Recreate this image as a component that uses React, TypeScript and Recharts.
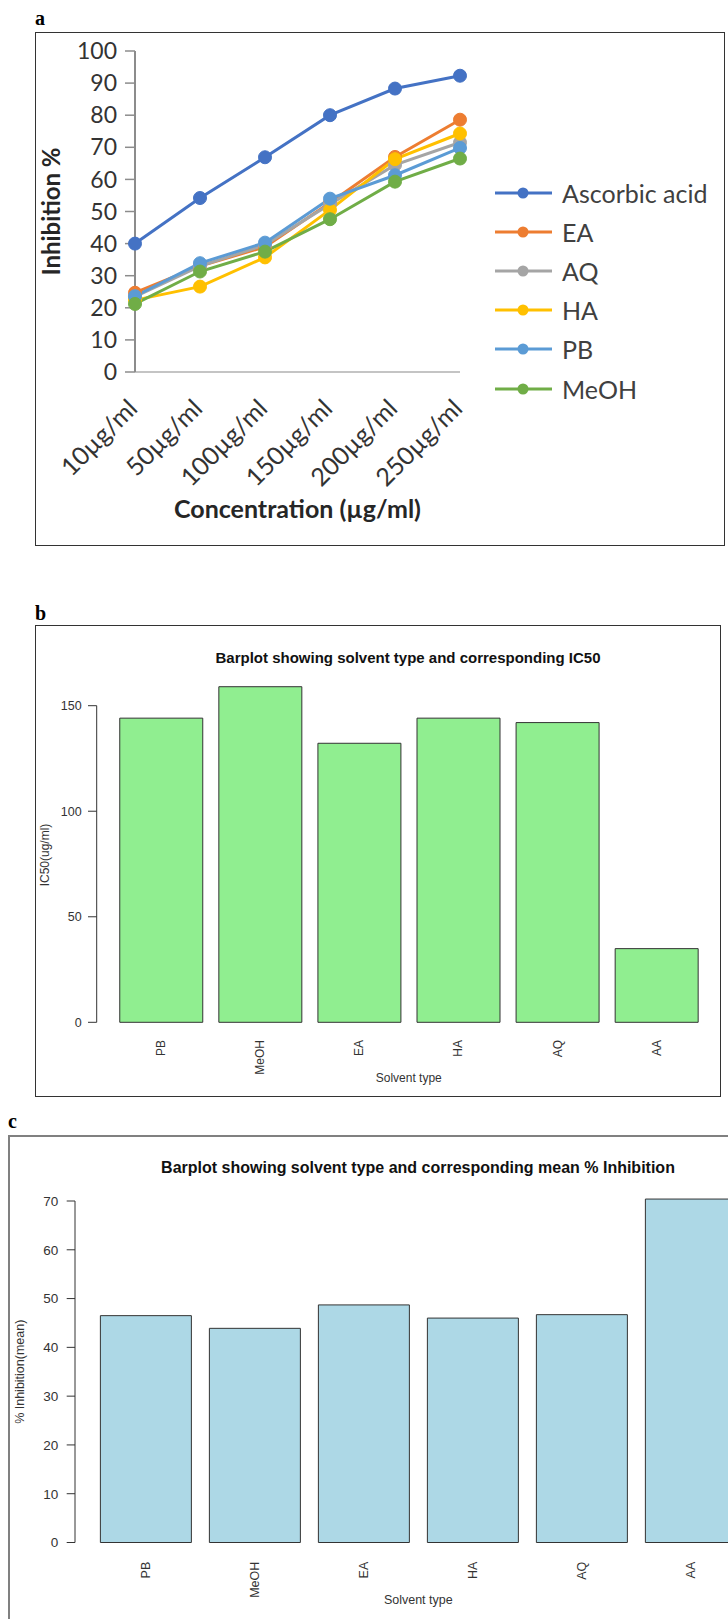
import React from 'react';
import { LineChart, Line, XAxis, YAxis, Legend, BarChart, Bar } from 'recharts';

// ---- Panel a: DPPH inhibition by concentration ----
const concentrations = ['10µg/ml', '50µg/ml', '100µg/ml', '150µg/ml', '200µg/ml', '250µg/ml'];
const ascorbicAcid = [40, 54.2, 66.9, 80, 88.3, 92.3];
const eaInhibition = [24.7, 33, 39, 52.7, 67, 78.6];
const aqInhibition = [23.5, 33, 39.6, 52.3, 64.5, 71.5];
const haInhibition = [22.4, 26.6, 35.7, 50.5, 66.3, 74.3];
const pbInhibition = [23.6, 33.9, 40.3, 54, 61.3, 69.8];
const meohInhibition = [21.2, 31.3, 37.5, 47.6, 59.3, 66.5];
const inhibitionTicks = [0, 10, 20, 30, 40, 50, 60, 70, 80, 90, 100];

const seriesNames = ['Ascorbic acid', 'EA', 'AQ', 'HA', 'PB', 'MeOH'];
const seriesColors = ['#4472C4', '#ED7D31', '#A5A5A5', '#FFC000', '#5B9BD5', '#70AD47'];
const seriesValues = [ascorbicAcid, eaInhibition, aqInhibition, haInhibition, pbInhibition, meohInhibition];

// ---- Panels b and c: per-solvent summaries ----
const solventTypes = ['PB', 'MeOH', 'EA', 'HA', 'AQ', 'AA'];
const ic50Values = [144.1, 159, 132.2, 144.1, 142, 34.9];
const ic50Ticks = [0, 50, 100, 150];
const meanInhibition = [46.5, 43.9, 48.7, 46.0, 46.7, 70.4];
const meanInhibitionTicks = [0, 10, 20, 30, 40, 50, 60, 70];

const EXCEL_FONT = 'Lato, "Open Sans", sans-serif';
const R_FONT = '"Liberation Sans", Arial, sans-serif';
const SERIF = '"Liberation Serif", "Times New Roman", serif';

const lineRows = concentrations.map((conc, i) => {
  const row: Record<string, string | number> = { conc };
  seriesNames.forEach((name, s) => {
    row[name] = seriesValues[s][i];
  });
  return row;
});

const ic50Rows = solventTypes.map((solvent, i) => ({ solvent, value: ic50Values[i] }));
const meanRows = solventTypes.map((solvent, i) => ({ solvent, value: meanInhibition[i] }));

function ConcTick(props: any) {
  const { x, y, payload } = props;
  const ax = x + 4;
  const ay = y + 38;
  return (
    <text
      x={ax}
      y={ay}
      transform={`rotate(-45, ${ax}, ${ay})`}
      textAnchor="end"
      fontFamily={EXCEL_FONT}
      fontSize={25}
      fill="#333"
    >
      {payload.value}
    </text>
  );
}

function LegendList(props: any) {
  // keep the legend in plotting order rather than alphabetical
  const payload = [...(props.payload || [])].sort(
    (a: any, b: any) => seriesNames.indexOf(a.value) - seriesNames.indexOf(b.value)
  );
  return (
    <div style={{ fontFamily: EXCEL_FONT, fontSize: 25, color: '#404040' }}>
      {payload.map((entry: any) => (
        <div key={entry.value} style={{ display: 'flex', alignItems: 'center', height: 39.2 }}>
          <svg width={57} height={14} style={{ marginRight: 10, flex: 'none' }}>
            <line x1={0} y1={7} x2={57} y2={7} stroke={entry.color} strokeWidth={3} />
            <circle cx={28} cy={7} r={5.5} fill={entry.color} />
          </svg>
          <span style={{ whiteSpace: 'nowrap' }}>{entry.value}</span>
        </div>
      ))}
    </div>
  );
}

function InhibitionLines() {
  return (
    <div style={{ position: 'absolute', left: 35, top: 32 }}>
      <LineChart width={690} height={514} data={lineRows} margin={{ top: 19, right: 265, bottom: 0, left: 0 }}>
        <XAxis
          dataKey="conc"
          height={174}
          interval={0}
          axisLine={{ stroke: '#c4c4c4', strokeWidth: 2 }}
          tickLine={false}
          tickSize={0}
          tickMargin={0}
          tick={(p: any) => <ConcTick {...p} />}
          label={{
            content: (p: any) => {
              const vb = p.viewBox;
              return (
                <text
                  x={vb.x + vb.width / 2}
                  y={vb.y + 146}
                  textAnchor="middle"
                  fontFamily={EXCEL_FONT}
                  fontWeight="bold"
                  fontSize={25}
                  fill="#262626"
                >
                  Concentration (µg/ml)
                </text>
              );
            },
          }}
        />
        <YAxis
          width={100}
          domain={[0, 100]}
          ticks={inhibitionTicks}
          interval={0}
          axisLine={{ stroke: '#8c8c8c', strokeWidth: 2 }}
          tickLine={{ stroke: '#8c8c8c', strokeWidth: 1.5 }}
          tickSize={10}
          tickMargin={8}
          tick={{ fontFamily: EXCEL_FONT, fontSize: 23, fill: '#333' }}
          label={{
            content: (p: any) => {
              const vb = p.viewBox;
              const cx = 15;
              const cy = vb.y + vb.height / 2;
              return (
                <text
                  x={cx}
                  y={cy}
                  transform={`rotate(-90, ${cx}, ${cy})`}
                  textAnchor="middle"
                  dominantBaseline="central"
                  fontFamily={EXCEL_FONT}
                  fontWeight="bold"
                  fontSize={24}
                  fill="#262626"
                >
                  Inhibition %
                </text>
              );
            },
          }}
        />
        {seriesNames.map((name, s) => (
          <Line
            key={name}
            type="linear"
            dataKey={name}
            name={name}
            stroke={seriesColors[s]}
            strokeWidth={3}
            dot={{ r: 6.5, fill: seriesColors[s], stroke: seriesColors[s], strokeWidth: 1 }}
            activeDot={false}
            isAnimationActive={false}
          />
        ))}
        <Legend
          layout="horizontal"
          align="center"
          verticalAlign="middle"
          content={(p: any) => <LegendList {...p} />}
          wrapperStyle={{ left: 460, top: 141, width: 228, height: 236 }}
        />
      </LineChart>
    </div>
  );
}

function VerticalTick(props: any) {
  const { x, y, payload, gap, size } = props;
  const ty = y + gap;
  return (
    <text
      x={x}
      y={ty}
      transform={`rotate(-90, ${x}, ${ty})`}
      textAnchor="end"
      dy="0.35em"
      fontFamily={R_FONT}
      fontSize={size}
      fill="#333"
    >
      {payload.value}
    </text>
  );
}

type BarPanelProps = {
  rows: { solvent: string; value: number }[];
  ticks: number[];
  left: number;
  top: number;
  width: number;
  height: number;
  marginTop: number;
  marginRight: number;
  axisWidth: number;
  axisHeight: number;
  pad: number;
  fill: string;
  yTitle: string;
  yTitleX: number;
  yTitleShift: number;
  tickFont: number;
  titleFont: number;
  tickSize: number;
  tickMargin: number;
  labelGap: number;
  xTitleGap: number;
};

function SolventBars(cfg: BarPanelProps) {
  const top = cfg.ticks[cfg.ticks.length - 1];
  return (
    <div className="noclip" style={{ position: 'absolute', left: cfg.left, top: cfg.top }}>
      <BarChart
        width={cfg.width}
        height={cfg.height}
        data={cfg.rows}
        margin={{ top: cfg.marginTop, right: cfg.marginRight, bottom: 0, left: 0 }}
        barCategoryGap="8.33%"
      >
        <XAxis
          dataKey="solvent"
          height={cfg.axisHeight}
          padding={{ left: cfg.pad, right: 0 }}
          interval={0}
          axisLine={false}
          tickLine={false}
          tickSize={0}
          tickMargin={0}
          tick={(p: any) => <VerticalTick {...p} gap={cfg.labelGap} size={cfg.titleFont} />}
          label={{
            content: (p: any) => {
              const vb = p.viewBox;
              return (
                <text
                  x={vb.x + cfg.pad + (vb.width - cfg.pad) / 2}
                  y={vb.y + cfg.xTitleGap}
                  textAnchor="middle"
                  fontFamily={R_FONT}
                  fontSize={cfg.titleFont}
                  fill="#333"
                >
                  Solvent type
                </text>
              );
            },
          }}
        />
        <YAxis
          width={cfg.axisWidth}
          domain={[0, top]}
          allowDataOverflow
          ticks={cfg.ticks}
          interval={0}
          axisLine={{ stroke: '#333', strokeWidth: 1 }}
          tickLine={{ stroke: '#333', strokeWidth: 1 }}
          tickSize={cfg.tickSize}
          tickMargin={cfg.tickMargin}
          tick={{ fontFamily: R_FONT, fontSize: cfg.tickFont, fill: '#333' }}
          label={{
            content: (p: any) => {
              const vb = p.viewBox;
              const cx = cfg.yTitleX;
              const cy = vb.y + vb.height / 2 + cfg.yTitleShift;
              return (
                <text
                  x={cx}
                  y={cy}
                  transform={`rotate(-90, ${cx}, ${cy})`}
                  textAnchor="middle"
                  dominantBaseline="central"
                  fontFamily={R_FONT}
                  fontSize={cfg.titleFont}
                  fill="#333"
                >
                  {cfg.yTitle}
                </text>
              );
            },
          }}
        />
        <Bar dataKey="value" fill={cfg.fill} stroke="#333" strokeWidth={1} isAnimationActive={false} />
      </BarChart>
    </div>
  );
}

export default function App() {
  return (
    <div
      style={{
        position: 'absolute',
        left: 0,
        top: 0,
        width: 728,
        height: 1619,
        overflow: 'hidden',
        background: '#fff',
      }}
    >
      <style>{`.noclip [clip-path]{clip-path:none !important;}`}</style>

      {/* panel frames */}
      <div style={{ position: 'absolute', left: 35, top: 32, width: 690, height: 514, border: '1.5px solid #333', boxSizing: 'border-box' }} />
      <div style={{ position: 'absolute', left: 35, top: 625, width: 686, height: 472, border: '1.5px solid #333', boxSizing: 'border-box' }} />
      <div style={{ position: 'absolute', left: 8, top: 1135, width: 770, height: 540, border: '2px solid #808080', boxSizing: 'border-box' }} />

      <InhibitionLines />

      <SolventBars
        rows={ic50Rows}
        ticks={ic50Ticks}
        left={35}
        top={625}
        width={686}
        height={472}
        marginTop={80.7}
        marginRight={15}
        axisWidth={61.7}
        axisHeight={74.7}
        pad={14.8}
        fill="#90EE90"
        yTitle="IC50(ug/ml)"
        yTitleX={10}
        yTitleShift={-9}
        tickFont={12.5}
        titleFont={12}
        tickSize={8.7}
        tickMargin={6.3}
        labelGap={17.7}
        xTitleGap={59.7}
      />

      <SolventBars
        rows={meanRows}
        ticks={meanInhibitionTicks}
        left={8}
        top={1135}
        width={760}
        height={500}
        marginTop={66}
        marginRight={22.7}
        axisWidth={67}
        axisHeight={92.5}
        pad={16.3}
        fill="#ADD8E6"
        yTitle="% Inhibition(mean)"
        yTitleX={12}
        yTitleShift={0}
        tickFont={13.5}
        titleFont={12.5}
        tickSize={8.3}
        tickMargin={8.4}
        labelGap={19.2}
        xTitleGap={61.5}
      />

      {/* panel letters and plot titles */}
      <svg width={728} height={1619} style={{ position: 'absolute', left: 0, top: 0, pointerEvents: 'none' }}>
        <text x={35} y={25} fontFamily={SERIF} fontWeight="bold" fontSize={20} fill="#000">a</text>
        <text x={35} y={620} fontFamily={SERIF} fontWeight="bold" fontSize={20} fill="#000">b</text>
        <text x={8} y={1128} fontFamily={SERIF} fontWeight="bold" fontSize={20} fill="#000">c</text>
        <text x={408} y={663} textAnchor="middle" fontFamily={R_FONT} fontWeight="bold" fontSize={15} fill="#111">
          Barplot showing solvent type and corresponding IC50
        </text>
        <text x={418} y={1173.3} textAnchor="middle" fontFamily={R_FONT} fontWeight="bold" fontSize={16} fill="#111">
          Barplot showing solvent type and corresponding mean % Inhibition
        </text>
      </svg>
    </div>
  );
}
